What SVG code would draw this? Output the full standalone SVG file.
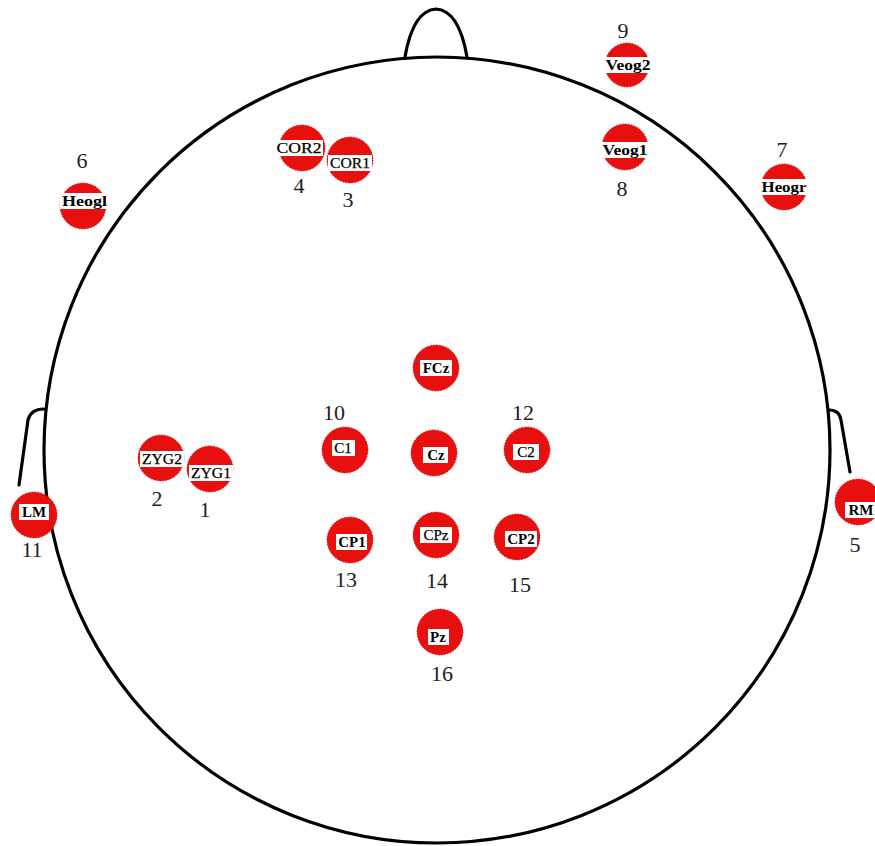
<svg xmlns="http://www.w3.org/2000/svg" width="875" height="846" viewBox="0 0 875 846">
<style>
.head{fill:none;stroke:#000;stroke-width:3.2;stroke-linecap:round;stroke-linejoin:round}
.el{fill:#e8100e;stroke:#c80000;stroke-width:0.8;stroke-dasharray:1.5 1.5}
.box{fill:#fff}
.lb{font-family:"Liberation Serif","DejaVu Serif",serif;font-size:15px;fill:#000;stroke:#000;stroke-width:0.25;text-anchor:middle}
.b{font-weight:bold;stroke-width:0}
.num{font-family:"Liberation Serif","DejaVu Serif",serif;font-size:22px;fill:#222;text-anchor:middle}
</style>
<rect width="875" height="846" fill="#fff"/>
<g id="head">
<circle class="head" cx="437" cy="450" r="393"/>
<path class="head" d="M405,57 C410,28 420,10 436,9 C452,10 462,28 467,57"/>
<path class="head" d="M44,409 C36,409 30,412 28,420 L19,485"/>
<path class="head" d="M829,410 C836,410 840,413 841,420 L850,472"/>
</g>
<g id="connectors"></g>
<g id="Heogl"><circle class="el" cx="83" cy="206" r="23"/><rect class="box" x="60" y="193" width="49" height="16"/><text class="lb b" x="84.5" y="206" textLength="45" lengthAdjust="spacingAndGlyphs">Heogl</text><text class="num" x="82" y="168">6</text></g>
<g id="COR2"><circle class="el" cx="302" cy="148" r="23"/><rect class="box" x="276" y="140" width="47" height="16"/><text class="lb" x="299" y="153" textLength="45" lengthAdjust="spacingAndGlyphs">COR2</text><text class="num" x="299" y="193">4</text></g>
<g id="COR1"><circle class="el" cx="350" cy="160" r="23"/><rect class="box" x="328" y="155" width="44" height="16"/><text class="lb" x="350" y="168" textLength="40" lengthAdjust="spacingAndGlyphs">COR1</text><text class="num" x="348" y="207">3</text></g>
<g id="Veog2"><circle class="el" cx="627" cy="65" r="22"/><rect class="box" x="604" y="57" width="48" height="16"/><text class="lb b" x="628" y="70" textLength="45" lengthAdjust="spacingAndGlyphs">Veog2</text><text class="num" x="623" y="38">9</text></g>
<g id="Veog1"><circle class="el" cx="625" cy="147" r="23"/><rect class="box" x="601" y="142" width="48" height="16"/><text class="lb b" x="625" y="155" textLength="45" lengthAdjust="spacingAndGlyphs">Veog1</text><text class="num" x="622" y="196">8</text></g>
<g id="Heogr"><circle class="el" cx="784" cy="187" r="23"/><rect class="box" x="760" y="179" width="48" height="16"/><text class="lb b" x="784" y="192" textLength="45" lengthAdjust="spacingAndGlyphs">Heogr</text><text class="num" x="782" y="157">7</text></g>
<g id="FCz"><circle class="el" cx="436" cy="368" r="23"/><rect class="box" x="420" y="360" width="32" height="16"/><text class="lb b" x="436" y="373">FCz</text></g>
<g id="C1"><circle class="el" cx="345" cy="450" r="23"/><rect class="box" x="332" y="440" width="23" height="16"/><text class="lb" x="343" y="453">C1</text><text class="num" x="334" y="420">10</text></g>
<g id="Cz"><circle class="el" cx="434" cy="453" r="23"/><rect class="box" x="423" y="447" width="25" height="16"/><text class="lb b" x="436" y="460">Cz</text></g>
<g id="C2"><circle class="el" cx="527" cy="450" r="23"/><rect class="box" x="513" y="444" width="26" height="16"/><text class="lb" x="526" y="457">C2</text><text class="num" x="523" y="420">12</text></g>
<g id="ZYG2"><circle class="el" cx="161" cy="458" r="23"/><rect class="box" x="140" y="451" width="44" height="16"/><text class="lb" x="162" y="464" textLength="40" lengthAdjust="spacingAndGlyphs">ZYG2</text><text class="num" x="157" y="506">2</text></g>
<g id="ZYG1"><circle class="el" cx="210" cy="469" r="23"/><rect class="box" x="189" y="465" width="44" height="16"/><text class="lb" x="211" y="478" textLength="40" lengthAdjust="spacingAndGlyphs">ZYG1</text><text class="num" x="205" y="517">1</text></g>
<g id="LM"><circle class="el" cx="34" cy="515" r="23"/><rect class="box" x="19" y="504" width="30" height="16"/><text class="lb b" x="34" y="517">LM</text><text class="num" x="32" y="557">11</text></g>
<g id="RM"><circle class="el" cx="858" cy="502" r="23"/><rect class="box" x="845" y="502" width="32" height="16"/><text class="lb b" x="861" y="515">RM</text><text class="num" x="855" y="552">5</text></g>
<g id="CP1"><circle class="el" cx="350" cy="540" r="23"/><rect class="box" x="336" y="534" width="31" height="16"/><text class="lb b" x="352" y="547">CP1</text><text class="num" x="346" y="587">13</text></g>
<g id="CPz"><circle class="el" cx="436" cy="535" r="23"/><rect class="box" x="420" y="527" width="32" height="16"/><text class="lb" x="436" y="540">CPz</text><text class="num" x="437" y="588">14</text></g>
<g id="CP2"><circle class="el" cx="517" cy="537" r="23"/><rect class="box" x="505" y="531" width="32" height="16"/><text class="lb b" x="521" y="544">CP2</text><text class="num" x="520" y="592">15</text></g>
<g id="Pz"><circle class="el" cx="440" cy="632" r="23"/><rect class="box" x="428" y="629" width="21" height="16"/><text class="lb b" x="438" y="642">Pz</text><text class="num" x="442" y="681">16</text></g>
</svg>
